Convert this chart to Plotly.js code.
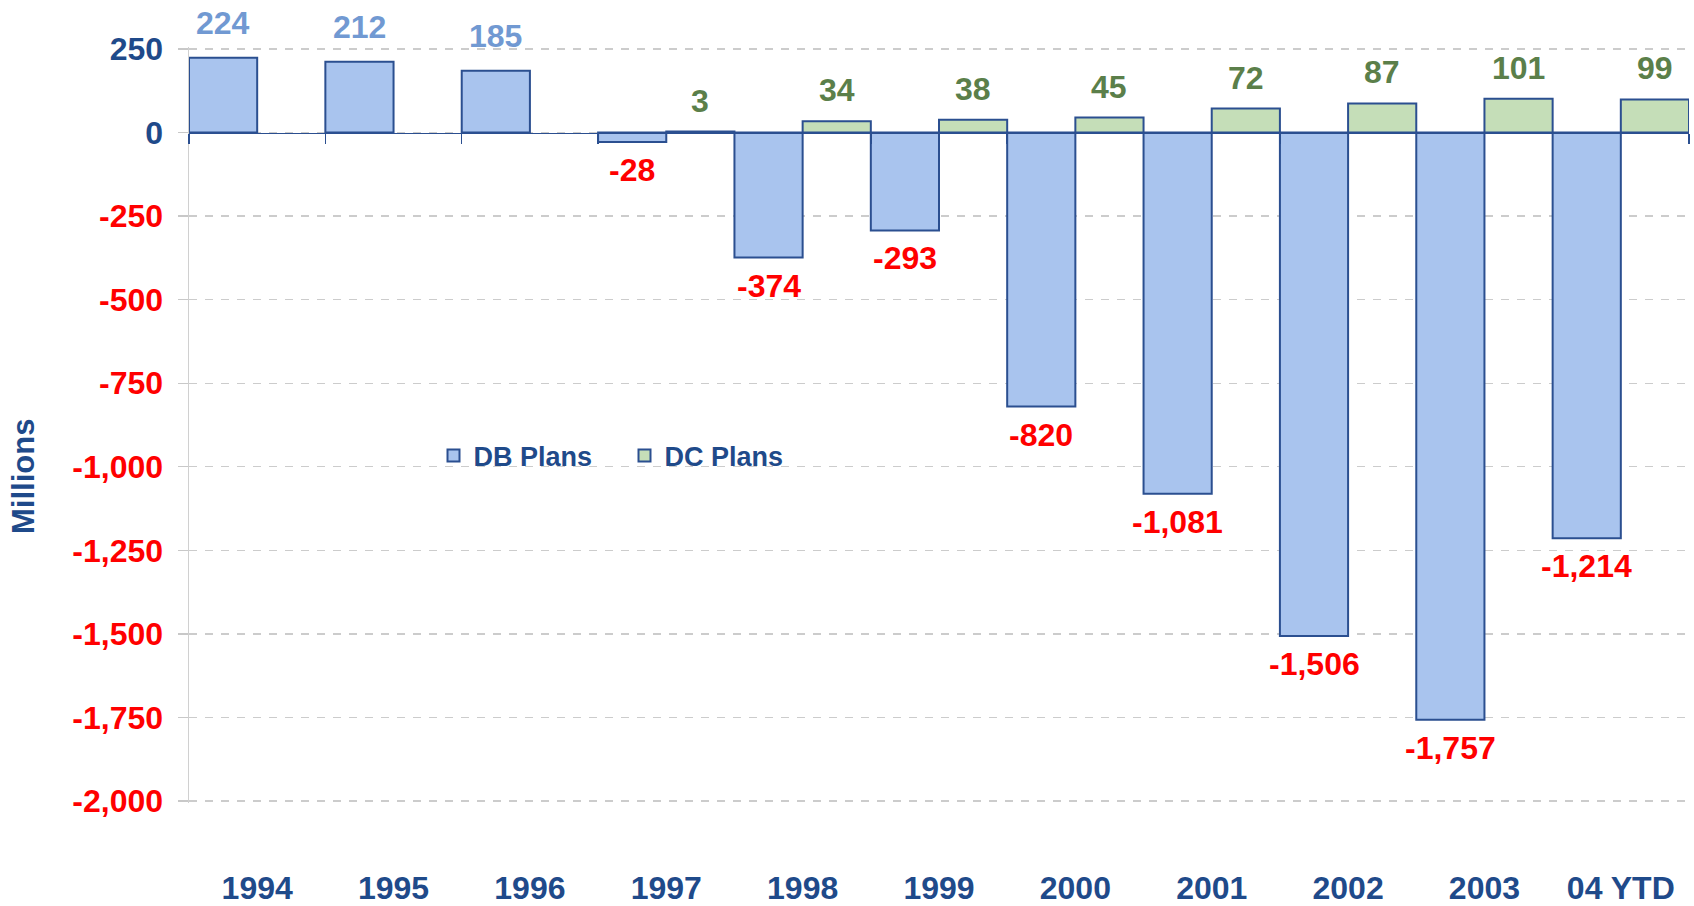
<!DOCTYPE html>
<html><head><meta charset="utf-8">
<script src="https://cdn.plot.ly/plotly-3.0.1.min.js"></script>
<style>html,body{margin:0;padding:0;background:#fff;} #chart{width:1694px;height:906px;}</style>
</head><body><div id="chart"></div>
<script>
const categories = ['1994','1995','1996','1997','1998','1999','2000','2001','2002','2003','04 YTD'];
const dbPlans = [224, 212, 185, -28, -374, -293, -820, -1081, -1506, -1757, -1214];
const dcPlans = [null, null, null, 3, 34, 38, 45, 72, 87, 101, 99];
const yTickVals = [250, 0, -250, -500, -750, -1000, -1250, -1500, -1750, -2000];
const yTickText = ['250', '0', '-250', '-500', '-750', '-1,000', '-1,250', '-1,500', '-1,750', '-2,000'];
const seriesNames = ['DB Plans', 'DC Plans'];

const FONT = 'Liberation Sans, Arial, sans-serif';
const NAVY = '#1F4A8A';
const RED = '#FF0000';
const OUTLINE = '#2B4F90';
const DB_FILL = '#A9C4EE';
const DC_FILL = '#C5DEB8';
const DB_LABEL = '#7199D2';
const DC_LABEL = '#5B7F4A';
const Y_MIN = -2000, Y_MAX = 250;
const R_MIN = Y_MIN - 6, R_MAX = Y_MAX + 6;

const fmt = v => v.toLocaleString('en-US');

const traces = [
  {type:'bar', name:seriesNames[0], x:categories, y:dbPlans,
   marker:{color:DB_FILL, line:{color:OUTLINE, width:2}}, hoverinfo:'x+y'},
  {type:'bar', name:seriesNames[1], x:categories, y:dcPlans,
   marker:{color:DC_FILL, line:{color:OUTLINE, width:2}}, hoverinfo:'x+y'},
  {type:'scatter', mode:'markers', x:categories, y:categories.map(() => null),
   xaxis:'x2', yaxis:'y', showlegend:false, hoverinfo:'skip'}
];

const annotations = [];
function addLabels(values, offset, posColor, posShift) {
  values.forEach((v, i) => {
    if (v === null) return;
    const neg = v < 0;
    annotations.push({
      xref:'x', yref:'y', x:i + offset, y:v, text:fmt(v), showarrow:false,
      xanchor:'center', yanchor:'middle', yshift: neg ? -28 : posShift,
      font:{family:FONT, size:32, color: neg ? RED : posColor, weight:'bold'}
    });
  });
}
addLabels(dbPlans, -0.25, DB_LABEL, 35);
addLabels(dcPlans, 0.25, DC_LABEL, 31);

annotations.push({
  xref:'paper', yref:'paper', x:-0.1103, y:0.432, text:'Millions', textangle:-90,
  showarrow:false, xanchor:'center', yanchor:'middle',
  font:{family:FONT, size:31, color:NAVY, weight:'bold'}
});

const tickText = yTickVals.map((v, i) =>
  v < 0 ? '<span style="color:' + RED + '">' + yTickText[i] + '</span>' : yTickText[i]);

const layout = {
  width:1694, height:906,
  margin:{l:189, r:5, t:46.7, b:103.3, pad:0},
  paper_bgcolor:'#ffffff', plot_bgcolor:'#ffffff',
  barmode:'group', bargap:0, bargroupgap:0,
  showlegend:true,
  legend:{orientation:'h', x:0.163, xanchor:'left', y:0.459, yanchor:'middle',
    font:{family:FONT, size:27, color:NAVY, weight:'bold'},
    entrywidth:146, entrywidthmode:'pixels', bgcolor:'rgba(0,0,0,0)', traceorder:'normal'},
  xaxis:{type:'category', categoryorder:'array', categoryarray:categories, range:[-0.5, 10.5],
    showgrid:false, showline:false, zeroline:false, ticks:'', ticklabelstandoff:63,
    tickfont:{family:FONT, size:32, color:NAVY, weight:'bold'}, fixedrange:true},
  xaxis2:{type:'category', overlaying:'x', matches:'x', anchor:'free',
    position:(0 - R_MIN) / (R_MAX - R_MIN), side:'bottom',
    showline:true, linecolor:OUTLINE, linewidth:1.5, showgrid:false, zeroline:false,
    ticks:'outside', tickson:'boundaries', ticklen:10, tickwidth:1.5, tickcolor:OUTLINE,
    showticklabels:false, fixedrange:true},
  yaxis:{range:[R_MIN, R_MAX], tickmode:'array', tickvals:yTickVals, ticktext:tickText,
    showgrid:true, gridcolor:'#CCCCCC', gridwidth:1.3, griddash:'8px,8px',
    zeroline:false, showline:true, linecolor:'#D0D0D0', linewidth:1.5,
    ticks:'outside', ticklen:10, tickcolor:'#C8C8C8', tickwidth:1.3, ticklabelstandoff:8,
    tickfont:{family:FONT, size:32, color:NAVY, weight:'bold'}, fixedrange:true},
  annotations:annotations
};

Plotly.newPlot('chart', traces, layout, {displayModeBar:false, staticPlot:true});
</script>
</body></html>
